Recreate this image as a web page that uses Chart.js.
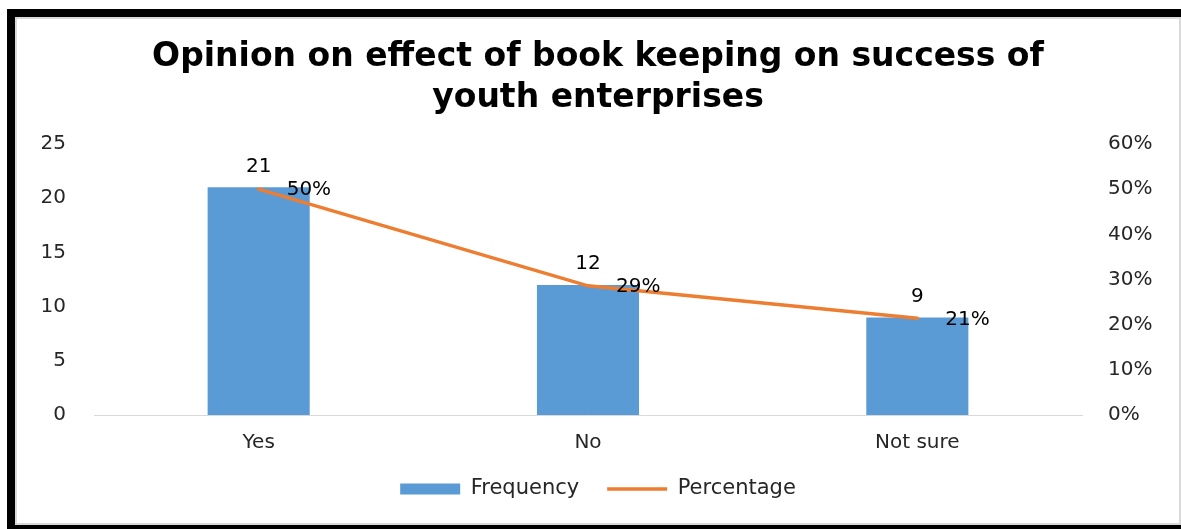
<!DOCTYPE html>
<html>
<head>
<meta charset="utf-8">
<script src="https://cdn.jsdelivr.net/npm/chart.js@4"></script>
<style>
	body { margin: 0; background: #fff; }
	#frame {
		position: absolute; left: 7px; top: 9px; width: 1174px; height: 520px;
		box-sizing: border-box;
		border-left: 8px solid #000; border-top: 8px solid #000; border-bottom: 4px solid #000;
	}
	#inner { width: 100%; height: 100%; box-sizing: border-box; border: 2px solid #d9d9d9; }
	canvas { display: block; }
</style>
</head>
<body>
<div id="frame"><div id="inner"><canvas id="chart" width="1162" height="504"></canvas></div></div>
<script>
const categories = ['Yes', 'No', 'Not sure'];
const frequency = [21, 12, 9];
const percentage = [50, 28.6, 21.4];
const titleLines = ['Opinion on effect of book keeping on success of', 'youth enterprises'];

const blue = '#5B9BD5';
const orange = '#ED7D31';
const font = 'DejaVu Sans';
const tickColor = '#262626';

// value labels: above bars, right of line points
const valueLabels = {
	id: 'valueLabels',
	afterDatasetsDraw(chart) {
		const ctx = chart.ctx;
		ctx.save();
		ctx.font = '20px "' + font + '"';
		ctx.fillStyle = '#000';
		ctx.textBaseline = 'middle';
		chart.getDatasetMeta(0).data.forEach((bar, i) => {
			ctx.textAlign = 'center';
			ctx.fillText(frequency[i], bar.x, bar.y - 21);
		});
		chart.getDatasetMeta(1).data.forEach((pt, i) => {
			ctx.textAlign = 'left';
			ctx.fillText(percentage[i].toFixed(0) + '%', pt.x + 28, pt.y + 1);
		});
		ctx.restore();
	}
};

new Chart(document.getElementById('chart'), {
	data: {
		labels: categories,
		datasets: [
			{
				type: 'bar',
				label: 'Frequency',
				data: frequency,
				backgroundColor: blue,
				borderWidth: 0,
				yAxisID: 'y',
				order: 2,
				categoryPercentage: 1,
				barPercentage: 0.31,
				pointStyle: 'rect'
			},
			{
				type: 'line',
				label: 'Percentage',
				data: percentage,
				borderColor: orange,
				backgroundColor: orange,
				borderWidth: 3.5,
				borderCapStyle: 'round',
				pointRadius: 0,
				tension: 0,
				yAxisID: 'y1',
				order: 1,
				pointStyle: 'line'
			}
		]
	},
	options: {
		responsive: false,
		animation: false,
		layout: { padding: { left: 0, right: 0, top: 0, bottom: 13.5 } },
		plugins: {
			title: {
				display: true,
				text: titleLines,
				color: '#000',
				font: { family: font, size: 33, weight: 'bold', lineHeight: 1.242 },
				padding: { top: 18, bottom: 25 }
			},
			legend: {
				position: 'bottom',
				labels: {
					usePointStyle: true,
					pointStyleWidth: 60,
					boxHeight: 11,
					padding: 28,
					color: tickColor,
					font: { family: font, size: 21 },
					sort: (a, b) => a.datasetIndex - b.datasetIndex
				}
			},
			tooltip: { enabled: false }
		},
		scales: {
			x: {
				grid: { display: false },
				border: { display: true, color: '#d9d9d9', width: 1 },
				ticks: { color: tickColor, padding: 8, font: { family: font, size: 20 } },
				afterFit: scale => { scale.height = 35.5; }
			},
			y: {
				position: 'left',
				min: 0,
				max: 25,
				grid: { display: false },
				border: { display: false },
				ticks: { stepSize: 5, color: tickColor, padding: 20, font: { family: font, size: 20 } },
				afterFit: scale => { scale.width = 77; }
			},
			y1: {
				position: 'right',
				min: 0,
				max: 60,
				grid: { display: false },
				border: { display: false },
				ticks: {
					stepSize: 10,
					color: tickColor,
					padding: 18,
					font: { family: font, size: 20 },
					callback: v => v + '%'
				},
				afterFit: scale => { scale.width = 97; }
			}
		}
	},
	plugins: [valueLabels]
});
</script>
</body>
</html>
